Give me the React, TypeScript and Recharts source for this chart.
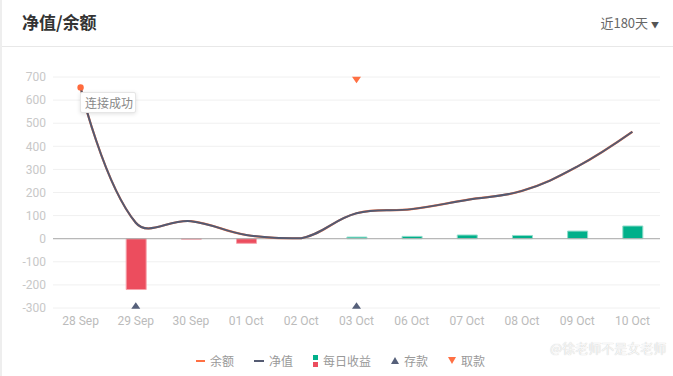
import {
  ComposedChart,
  Bar,
  Line,
  Cell,
  XAxis,
  YAxis,
  CartesianGrid,
  ReferenceLine,
} from "recharts";

const dates = [
  "28 Sep",
  "29 Sep",
  "30 Sep",
  "01 Oct",
  "02 Oct",
  "03 Oct",
  "06 Oct",
  "07 Oct",
  "08 Oct",
  "09 Oct",
  "10 Oct",
];
const balance = [655, 69, 76, 16, 2, 110, 128, 168, 207, 312, 463];
const netValue = [655, 69, 76, 16, 2, 110, 128, 168, 207, 312, 463];
const dailyIncome = [0, -220, -2, -20, 0, 7, 10, 16, 14, 33, 55];
const deposits = [null, -290, null, null, null, -290, null, null, null, null, null];
const withdrawals = [null, null, null, null, null, 688, null, null, null, null, null];
const yTicks = [-300, -200, -100, 0, 100, 200, 300, 400, 500, 600, 700];

const data = dates.map((d, i) => ({
  date: d,
  balance: balance[i],
  net: netValue[i],
  income: dailyIncome[i],
  deposit: deposits[i],
  withdraw: withdrawals[i],
}));

const CJK = '"Noto Sans CJK SC", "Noto Sans", sans-serif';

// catmull-rom -> bezier with control points kept inside the points' bbox
const smoothCurve = (context: any) => {
  let pts: number[][] = [];
  const s = 0.4;
  return {
    areaStart() {},
    areaEnd() {},
    lineStart() {
      pts = [];
    },
    point(x: number, y: number) {
      pts.push([+x, +y]);
    },
    lineEnd() {
      const n = pts.length;
      if (!n) return;
      let minX = 0, minY = 0, maxX = 1, maxY = 1;
      pts.forEach((p) => {
        minX = Math.min(minX, p[0]);
        minY = Math.min(minY, p[1]);
        maxX = Math.max(maxX, p[0]);
        maxY = Math.max(maxY, p[1]);
      });
      const clamp = (p: number[]) => [
        Math.min(Math.max(p[0], minX), maxX),
        Math.min(Math.max(p[1], minY), maxY),
      ];
      const cps: number[][] = [];
      for (let i = 0; i < n; i++) {
        const p = pts[i];
        if (i === 0 || i === n - 1) {
          cps.push(p);
          continue;
        }
        const prev = pts[i - 1];
        const nx = pts[i + 1];
        const vx = (nx[0] - prev[0]) * s;
        const vy = (nx[1] - prev[1]) * s;
        let d0 = Math.hypot(p[0] - prev[0], p[1] - prev[1]);
        let d1 = Math.hypot(nx[0] - p[0], nx[1] - p[1]);
        const sum = d0 + d1;
        if (sum !== 0) {
          d0 /= sum;
          d1 /= sum;
        }
        cps.push(clamp([p[0] - vx * d0, p[1] - vy * d0]));
        cps.push(clamp([p[0] + vx * d1, p[1] + vy * d1]));
      }
      context.moveTo(pts[0][0], pts[0][1]);
      for (let i = 0; i < n - 1; i++) {
        const a = cps[i * 2];
        const b = cps[i * 2 + 1];
        const p = pts[i + 1];
        context.bezierCurveTo(a[0], a[1], b[0], b[1], p[0], p[1]);
      }
    },
  };
};

const UpTri = (props: any) => {
  const { cx, cy, payload } = props;
  if (payload.deposit == null || cy == null) return null;
  return (
    <path
      d={`M${cx - 4.5},${cy + 3} L${cx + 4.5},${cy + 3} L${cx},${cy - 3.5} Z`}
      fill="#56607a"
    />
  );
};

const DownTri = (props: any) => {
  const { cx, cy, payload } = props;
  if (payload.withdraw == null || cy == null) return null;
  return (
    <path
      d={`M${cx - 4.5},${cy - 3} L${cx + 4.5},${cy - 3} L${cx},${cy + 3.5} Z`}
      fill="#ff7043"
    />
  );
};

const FirstDot = (props: any) => {
  const { cx, cy, index } = props;
  if (index !== 0) return null;
  return <circle cx={cx} cy={cy} r={3.2} fill="#ff6a3d" />;
};

export default function App() {
  return (
    <div
      style={{
        position: "fixed",
        left: 0,
        top: 0,
        width: 673,
        height: 376,
        background: "#fff",
        fontFamily: CJK,
        overflow: "hidden",
        borderLeft: "2px solid #eeeeee",
        boxSizing: "border-box",
      }}
    >
      {/* Header */}
      <div
        style={{
          position: "absolute",
          left: 20,
          top: 9,
          fontSize: 17,
          fontWeight: 700,
          color: "#333",
        }}
      >
        净值/余额
      </div>
      <div
        style={{
          position: "absolute",
          right: 14,
          top: 13,
          fontSize: 13,
          color: "#666",
        }}
      >
        近180天 <span style={{ fontSize: 8, color: "#555" }}>▼</span>
      </div>
      <div
        style={{
          position: "absolute",
          left: 0,
          right: 0,
          top: 46,
          height: 1,
          background: "#e8e8e8",
        }}
      />

      <div style={{ position: "absolute", left: -2, top: 0 }}>
        <ComposedChart
          width={673}
          height={340}
          data={data}
          margin={{ top: 77, right: 13, bottom: 2, left: 0 }}
        >
          <CartesianGrid vertical={false} stroke="#f0f0f0" />
          <XAxis
            dataKey="date"
            axisLine={false}
            tickLine={false}
            tickSize={0}
            tickMargin={8}
            height={30}
            interval={0}
            tick={{ fill: "#bbbbbb", fontSize: 12, fontFamily: "Roboto" }}
          />
          <YAxis
            width={53}
            domain={[-300, 700]}
            ticks={yTicks}
            axisLine={false}
            tickLine={false}
            tickSize={0}
            tickMargin={7}
            interval={0}
            tick={{ fill: "#c8c8c8", fontSize: 12, fontFamily: "Roboto" }}
          />
          <Bar dataKey="income" barSize={20} isAnimationActive={false}>
            {data.map((d, i) => (
              <Cell
                key={i}
                fill={d.income >= 0 ? "#00b08a" : "#ec4d5e"}
                stroke={d.income >= 0 ? "#8edcca" : "#f6a3ac"}
                strokeWidth={1}
              />
            ))}
          </Bar>
          <ReferenceLine y={0} stroke="#aaaaaa" />
          <Line
            dataKey="balance"
            type={smoothCurve as any}
            stroke="#ff7a4a"
            strokeWidth={2.2}
            dot={<FirstDot />}
            activeDot={false}
            isAnimationActive={false}
          />
          <Line
            dataKey="net"
            type={smoothCurve as any}
            stroke="#535a72"
            strokeWidth={2}
            dot={false}
            activeDot={false}
            isAnimationActive={false}
          />
          <Line
            dataKey="deposit"
            stroke="none"
            dot={<UpTri />}
            activeDot={false}
            isAnimationActive={false}
          />
          <Line
            dataKey="withdraw"
            stroke="none"
            dot={<DownTri />}
            activeDot={false}
            isAnimationActive={false}
          />
        </ComposedChart>
      </div>

      {/* toast */}
      <div
        style={{
          position: "absolute",
          left: 78,
          top: 92,
          width: 56,
          height: 21,
          boxSizing: "border-box",
          background: "#fff",
          border: "1px solid #e6e6e6",
          boxShadow: "0 1px 4px rgba(0,0,0,0.12)",
          borderRadius: 2,
          fontSize: 12,
          color: "#888",
          lineHeight: "19px",
          paddingLeft: 4,
          whiteSpace: "nowrap",
        }}
      >
        连接成功
      </div>

      {/* Legend */}
      <div
        style={{
          position: "absolute",
          left: 0,
          right: 0,
          top: 352,
          display: "flex",
          justifyContent: "center",
          alignItems: "center",
          fontSize: 12,
          color: "#999",
          paddingLeft: 6,
        }}
      >
        <span style={{ display: "flex", alignItems: "center", marginRight: 20 }}>
          <span style={{ width: 9, height: 2, background: "#ff7043", marginRight: 5 }} />
          余额
        </span>
        <span style={{ display: "flex", alignItems: "center", marginRight: 20 }}>
          <span style={{ width: 10, height: 2, background: "#555b72", marginRight: 5 }} />
          净值
        </span>
        <span style={{ display: "flex", alignItems: "center", marginRight: 20 }}>
          <span style={{ display: "flex", flexDirection: "column", marginRight: 5 }}>
            <span style={{ width: 5, height: 5, background: "#00b08a", marginBottom: 2 }} />
            <span style={{ width: 5, height: 5, background: "#ec4d5e" }} />
          </span>
          每日收益
        </span>
        <span style={{ display: "flex", alignItems: "center", marginRight: 20 }}>
          <svg width={8} height={7} style={{ marginRight: 5 }}>
            <path d="M0,7 L8,7 L4,0 Z" fill="#56607a" />
          </svg>
          存款
        </span>
        <span style={{ display: "flex", alignItems: "center" }}>
          <svg width={8} height={7} style={{ marginRight: 5 }}>
            <path d="M0,0 L8,0 L4,7 Z" fill="#ff7043" />
          </svg>
          取款
        </span>
      </div>

      {/* watermark */}
      <div
        style={{
          position: "absolute",
          left: 548,
          top: 338,
          fontSize: 13,
          color: "#f8f8f8",
          textShadow: "0 0 1px #bbb",
          whiteSpace: "nowrap",
        }}
      >
        @徐老师不是女老师
      </div>
    </div>
  );
}
